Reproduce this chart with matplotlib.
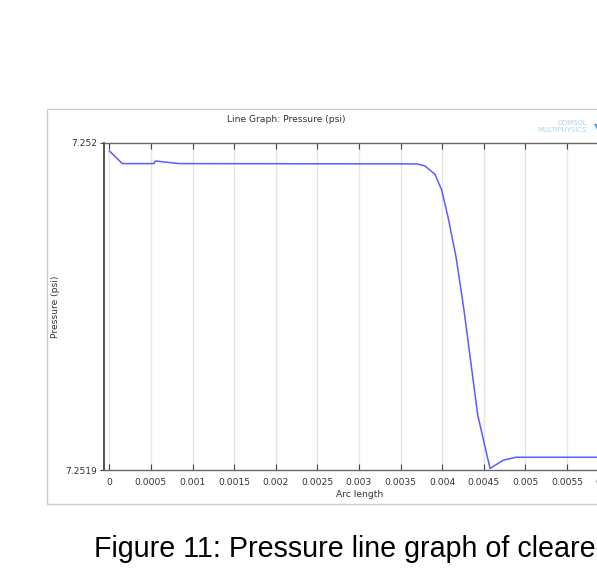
import numpy as np
import matplotlib
matplotlib.use('Agg')
import matplotlib.pyplot as plt
from matplotlib.patches import Rectangle
from matplotlib.ticker import FuncFormatter

# pressure along the cut line (psi) vs arc length
arc_length = [0.0, 0.000156, 0.000537, 0.000553, 0.000838, 0.003695, 0.003794,
              0.003915, 0.003995, 0.004074, 0.004167, 0.004263, 0.004428,
              0.004576, 0.004736, 0.004888, 0.00605]
pressure = [7.2519976, 7.2519937, 7.2519937, 7.2519945, 7.2519937, 7.2519936,
            7.2519930, 7.2519904, 7.2519856, 7.2519770, 7.2519652, 7.2519489,
            7.2519168, 7.2519005, 7.2519030, 7.2519039, 7.2519039]

x_ticks = np.arange(0, 0.00601, 0.0005)
y_ticks = [7.2519, 7.252]
y_labels = ['7.2519', '7.252']

W, H = 597, 574
fig = plt.figure(figsize=(W / 100, H / 100), dpi=100)
fig.patch.set_facecolor('white')

def fx(px):
  return px / W

def fy(py):
  return 1 - py / H

# grey frame around the graphics window
fig.add_artist(Rectangle((fx(47), fy(504)), fx(680) - fx(47), fy(109) - fy(504),
                         transform=fig.transFigure, fill=False,
                         edgecolor='#cfcbc3', lw=1.0))

ax = fig.add_axes([fx(104), fy(470), fx(616) - fx(104), fy(143) - fy(470)])
ax.plot(arc_length, pressure, color='#5b5bff', lw=1.1)

ax.set_xlim(-0.000064, 0.00609)
ax.set_ylim(7.2519, 7.252)

ax.set_xticks(x_ticks)
ax.xaxis.set_major_formatter(FuncFormatter(lambda v, p: '%g' % round(v, 6)))
ax.set_yticks(y_ticks, labels=y_labels)

ax.tick_params(axis='x', direction='in', length=4, width=0.8, colors='#444444',
               labelsize=6.6, pad=6, top=True, labelcolor='#333333')
ax.tick_params(axis='y', direction='out', length=3, width=0.8, colors='#444444',
               labelsize=6.6, pad=2, labelcolor='#333333')

ax.grid(True, axis='x', color='#e4e4e4', lw=1.0)
ax.set_axisbelow(True)
for side in ['top', 'bottom', 'left', 'right']:
  ax.spines[side].set_color('#666666')
  ax.spines[side].set_linewidth(1.0)
ax.spines['left'].set_color('#444444')
ax.spines['left'].set_linewidth(1.3)

ax.set_xlabel('Arc length', fontsize=6.6, color='#333333', va='center')
ax.xaxis.set_label_coords(0.5, -0.0746)
ax.set_ylabel('Pressure (psi)', fontsize=6.6, color='#333333', va='center')
ax.yaxis.set_label_coords(-0.0943, 0.5)

fig.text(fx(286), fy(119), 'Line Graph: Pressure (psi)', fontsize=6.6,
         color='#333333', ha='center', va='center')

# software badge in the top right corner
fig.text(fx(587), fy(123), 'COMSOL', fontsize=5.0, color='#a9d2ee',
         ha='right', va='center')
fig.text(fx(587), fy(129.5), 'MULTIPHYSICS', fontsize=5.0, color='#a9d2ee',
         ha='right', va='center')
fig.text(fx(594), fy(127), '\u25bc', fontsize=6, color='#4a9bd8',
         ha='left', va='center')

fig.text(fx(94), fy(557), 'Figure 11: Pressure line graph of cleared',
         fontsize=20.6, family='Liberation Sans', color='black',
         ha='left', va='baseline')

fig.savefig('out.png', dpi=100)
